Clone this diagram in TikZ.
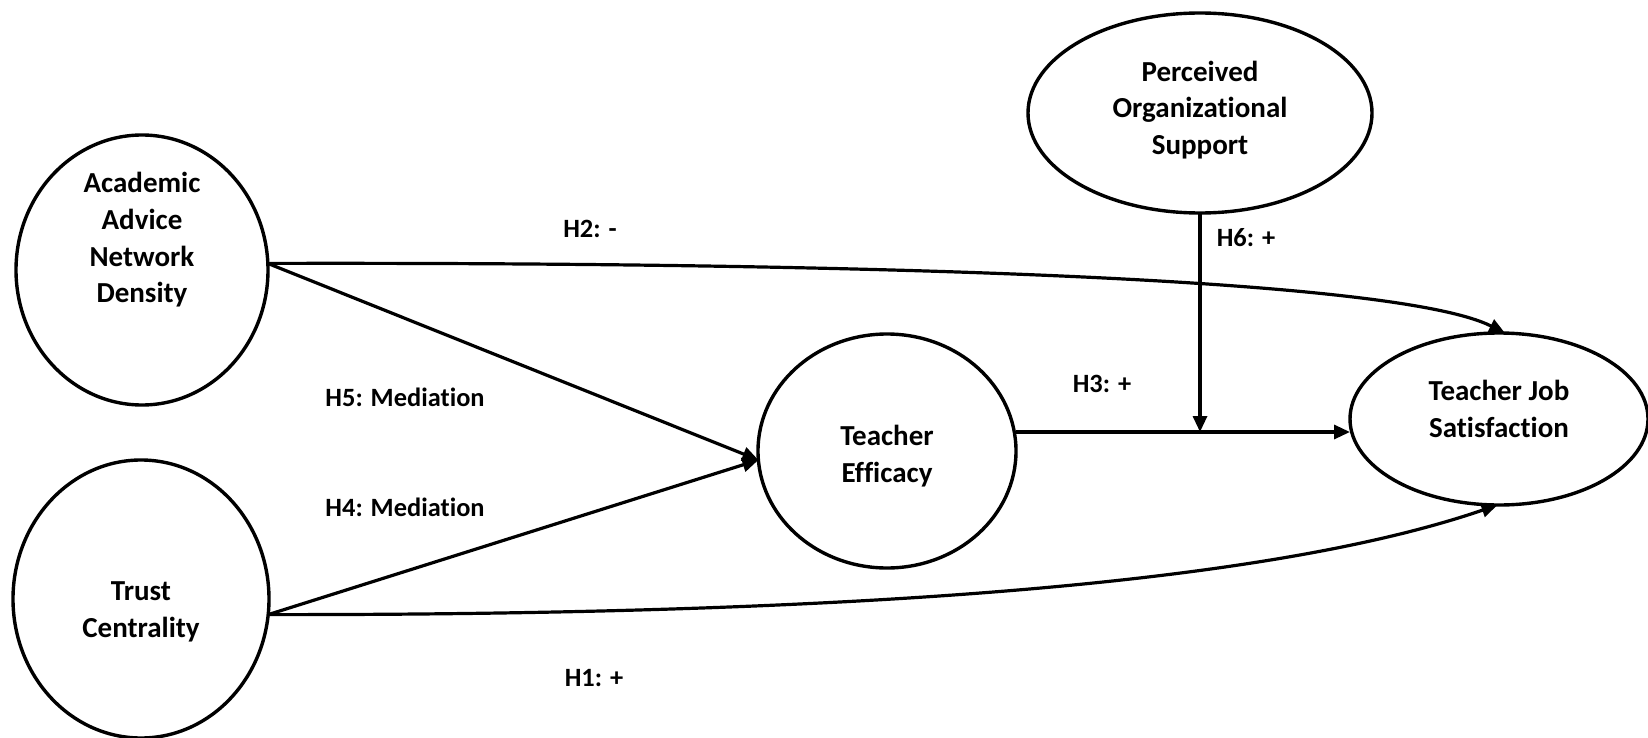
\documentclass[tikz,border=0pt]{standalone}
\usepackage{fontspec}
\setmainfont[Ligatures=NoCommon]{Carlito}
\usetikzlibrary{shapes.geometric,arrows.meta}

\tikzset{
  construct/.style={draw, ellipse, line width=1.7pt, inner sep=0pt, outer sep=0pt},
  ctext/.style={align=center, font=\bfseries\fontsize{14.5}{18.3}\selectfont},
  hyp/.style={font=\bfseries\fontsize{13.2}{16}\selectfont},
  link/.style={line width=1.6pt, -{Triangle[length=8pt,width=7pt]}}
}

\begin{document}
\begin{tikzpicture}[x=0.5pt,y=-0.5pt]

    % --- Frame ---
    \useasboundingbox (0,0) rectangle (1648,738);

    % --- Constructs ---
    \node[construct, minimum width=126pt, minimum height=135pt] (acad) at (142,270) {};
    \node[construct, minimum width=128pt, minimum height=139pt] (trust) at (141,599) {};
    \node[construct, minimum width=129pt, minimum height=117pt] (eff) at (887,451) {};
    \node[construct, minimum width=172pt, minimum height=100pt] (pos) at (1200,113) {};
    \node[construct, minimum width=149pt, minimum height=86pt] (tjs) at (1499,419) {};

    % Texts inside the ellipses
    \node[ctext] (acad-t) at (142,240) {Academic\\Advice\\Network\\Density};
    \node[ctext] (trust-t) at (141,612) {Trust\\Centrality};
    \node[ctext] (eff-t) at (887,456) {Teacher\\Efficacy};
    \node[ctext] (pos-t) at (1200,110) {Perceived\\Organizational\\Support};
    \node[ctext] (tjs-t) at (1499,409) {Teacher Job\\Satisfaction};

    % Moderation point
    \coordinate (mod) at (1200,432);

    % --- Paths ---
    \draw[link] (acad.3) -- (eff.184);
    \draw[link] (trust.-7) -- (eff.184);
    \draw[link] (acad.3) .. controls (900,262) and (1400,280) .. (tjs.86);
    \draw[link] (trust.-7) .. controls (800,615) and (1250,590) .. (tjs.-91);
    \draw[line width=1.6pt] (eff.east |- mod) -- (mod);
    \draw[link] (mod) -- (tjs.west |- mod);
    \draw[link] (pos.south) -- (mod);

    % --- Hypotheses ---
    \node[hyp] (h2) at (590,229) {H2: -};
    \node[hyp] (h6) at (1246,238) {H6: +};
    \node[hyp] (h5) at (405,397) {H5: Mediation};
    \node[hyp] (h4) at (405,507) {H4: Mediation};
    \node[hyp] (h3) at (1102,384) {H3: +};
    \node[hyp] (h1) at (594,678) {H1: +};

\end{tikzpicture}
\end{document}
